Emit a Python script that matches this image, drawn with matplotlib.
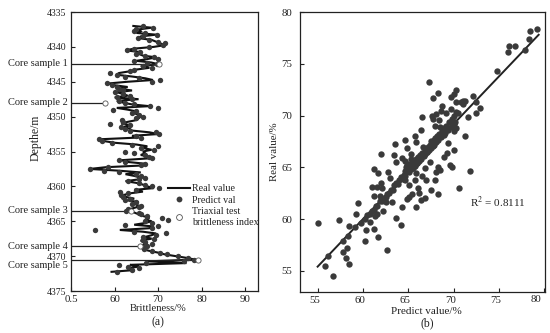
import matplotlib
matplotlib.use("Agg")
import matplotlib.pyplot as plt
from matplotlib.lines import Line2D
from matplotlib.transforms import ScaledTranslation

plt.rcParams['font.family'] = ['Liberation Serif', 'DejaVu Serif']

DARK = '#3a3a3a'
TXT = '#222222'

depth = [4337.0,4337.25,4337.5,4337.75,4338.0,4338.25,4338.5,4338.75,4339.0,4339.25,4339.5,4339.75,
4340.0,4340.25,4340.5,4340.75,4341.0,4341.25,4341.5,4341.75,4342.0,4342.25,4342.5,4342.75,
4343.0,4343.25,4343.5,4343.75,4344.0,4344.25,4344.5,4344.75,4345.0,4345.25,4345.5,4345.75,
4346.0,4346.25,4346.5,4346.75,4347.0,4347.25,4347.5,4347.75,4348.0,4348.25,4348.5,4348.75,
4349.0,4349.25,4349.5,4349.75,4350.0,4350.25,4350.5,4350.75,4351.0,4351.25,4351.5,4351.75,
4352.0,4352.25,4352.5,4352.75,4353.0,4353.25,4353.5,4353.75,4354.0,4354.25,4354.5,4354.75,
4355.0,4355.25,4355.5,4355.75,4356.0,4356.25,4356.5,4356.75,4357.0,4357.25,4357.5,4357.75,
4358.0,4358.25,4358.5,4358.75,4359.0,4359.25,4359.5,4359.75,4360.0,4360.25,4360.5,4360.75,
4361.0,4361.25,4361.5,4361.75,4362.0,4362.25,4362.5,4362.75,4363.0,4363.25,4363.5,4363.75,
4364.0,4364.25,4364.5,4364.75,4365.0,4365.25,4365.5,4365.75,4366.0,4366.25,4366.5,4366.75,
4367.0,4367.25,4367.5,4367.75,4368.0,4368.25,4368.5,4368.75,4369.0,4369.25,4369.5,4369.75,
4370.0,4370.25,4370.5,4370.75,4371.0,4371.25,4371.5,4371.75,4372.0,4372.25]

real = [64.3,68.5,65.5,66.0,65.0,69.5,66.0,65.5,68.5,69.5,70.5,71.5,
69.0,64.5,62.5,66.0,65.5,66.5,69.5,67.5,65.0,68.5,70.1,66.0,
68.0,65.0,63.5,61.0,60.5,64.0,67.0,68.8,63.0,58.5,60.0,63.0,
61.0,64.0,60.5,62.0,63.0,60.0,65.5,60.5,62.0,64.0,68.0,60.5,
63.0,65.0,64.5,65.5,66.0,65.5,65.0,63.0,61.5,64.0,62.0,63.5,
64.0,68.0,70.0,64.0,65.5,56.5,57.5,60.0,65.0,67.5,66.5,68.5,
66.5,67.0,66.0,68.0,67.5,61.5,63.0,67.0,66.5,58.0,54.3,61.0,
66.0,62.5,64.5,66.0,65.5,62.5,65.0,66.5,67.5,69.0,64.5,66.5,
63.5,62.0,62.5,64.5,63.0,65.5,64.5,65.5,65.0,63.5,63.7,64.5,
65.5,66.5,68.0,67.0,68.5,67.0,64.5,69.0,68.0,61.2,66.5,69.5,
68.5,67.0,68.5,66.0,66.5,67.5,65.9,67.0,66.5,68.0,70.0,71.5,
74.0,76.5,78.5,67.5,76.5,63.5,65.5,63.0,64.5,59.3]

predict = [66.5,68.8,65.0,64.5,67.0,69.7,66.5,65.4,68.0,70.0,71.5,71.0,
67.8,64.5,62.8,65.8,65.0,67.0,69.0,70.0,64.5,67.5,69.8,66.5,
68.5,64.5,63.5,58.9,60.6,62.5,65.5,70.4,68.5,58.2,59.5,60.5,
61.0,62.0,60.0,62.0,63.5,60.5,64.0,61.0,62.5,64.5,68.1,69.9,
59.7,65.0,64.0,65.5,66.5,65.0,61.8,62.0,59.0,63.5,61.5,62.5,
63.5,69.5,70.2,65.0,66.0,56.4,57.0,59.5,64.0,70.0,66.0,69.0,
62.4,64.5,67.0,68.0,68.5,61.0,62.5,67.0,66.0,58.6,54.4,57.5,
61.0,65.0,66.0,67.0,65.5,63.0,65.5,67.0,68.5,70.1,65.0,61.2,
63.0,61.5,62.0,63.5,62.5,65.0,64.0,66.0,65.5,63.0,62.7,65.5,
66.0,67.5,70.9,72.3,67.0,68.5,62.4,70.0,68.5,55.5,64.5,71.7,
69.5,66.5,69.0,66.5,67.0,68.5,67.5,66.5,66.8,68.5,70.5,72.0,
74.5,76.8,78.2,76.0,67.3,61.0,63.0,65.6,64.0,60.5]

core_names = ['Core sample 1', 'Core sample 2', 'Core sample 3', 'Core sample 4', 'Core sample 5']
core_depth = [4342.4, 4348.0, 4363.5, 4368.6, 4370.6]
core_value = [70.1, 57.9, 63.7, 65.9, 79.1]

left_xticks = [50, 60, 70, 80, 90]
left_xlabels = ['0.5', '60', '70', '80', '90']
left_yticks = [4335, 4340, 4345, 4350, 4355, 4360, 4365, 4370, 4375]

scatter_x = [79.2,78.4,78.3,77.9,76.8,76.1,76.0,74.85,67.3,68.3,67.7,70.3,70.0,69.75,68.7,72.1,72.5,72.9,72.5,71.6,
70.3,71.3,71.0,71.1,70.85,69.7,68.6,69.15,68.05,67.6,66.5,67.7,68.4,68.0,66.4,70.3,70.0,71.25,65.8,64.6,
63.5,65.9,64.9,70.1,69.4,62.0,63.4,64.3,63.6,64.6,65.3,69.25,69.0,67.4,68.3,69.6,69.8,61.2,66.9,
71.85,61.7,62.8,63.0,62.0,61.05,61.6,62.1,61.9,61.2,70.6,68.5,68.05,68.0,66.95,66.5,65.9,65.75,64.7,65.1,66.1,
66.2,67.55,68.3,65.4,65.05,64.85,66.8,66.45,65.9,64.35,62.6,63.25,59.5,62.2,61.55,61.3,59.25,57.4,55.0,58.5,
63.7,64.2,60.75,59.15,60.3,61.25,61.65,58.4,60.25,57.8,58.2,57.8,62.65,58.1,56.1,58.45,55.8,56.7,
60.5,61.0,61.4,61.9,62.3,62.7,63.1,63.4,63.7,64.0,64.2,64.6,64.8,65.0,65.2,65.4,65.6,65.9,66.1,66.3,
66.5,66.8,67.0,67.2,67.4,67.6,67.8,68.0,68.2,68.4,68.7,69.0,69.2,69.5,69.8,70.1,70.3,70.5,65.1,64.9,
65.5,65.7,66.2,67.1,67.5,67.9,68.5,66.6,66.0,65.3,
59.8,60.2,60.8,61.2,61.6,62.1,62.5,62.9,63.3,63.9,64.4,64.7,65.1,65.3,65.5,65.8,66.0,66.4,66.7,66.9,
67.1,67.3,67.5,67.7,67.9,68.1,68.3,68.6,68.9,69.1,69.4,69.7,70.0,70.2,64.5,64.9,65.2,65.0,65.4,66.2]

scatter_y = [78.36,78.2,77.4,76.3,76.7,76.75,76.1,74.3,73.2,72.2,71.65,72.45,72.1,71.8,70.95,71.9,71.3,70.75,70.2,69.85,
71.35,71.45,71.4,71.1,71.3,70.65,70.45,70.2,70.1,70.0,69.9,69.7,69.55,69.0,68.6,68.75,68.5,68.05,68.0,67.6,
67.25,67.4,66.85,66.7,67.3,66.3,66.15,65.9,65.5,65.65,66.25,66.35,66.0,65.5,65.0,65.2,65.05,64.85,64.9,
64.6,64.45,64.55,64.0,63.5,63.05,63.05,62.95,62.2,62.2,63.0,64.7,64.55,63.8,63.8,64.15,64.45,63.8,63.8,63.25,62.95,
62.5,62.85,62.45,62.4,62.15,61.95,62.05,61.8,61.15,61.15,61.6,61.6,61.55,60.8,60.5,60.3,60.45,59.95,59.6,59.3,
60.1,59.45,59.75,59.2,58.9,59.0,58.3,58.4,57.9,57.9,57.2,56.8,57.0,56.25,56.4,55.7,55.5,54.45,
60.4,60.8,61.3,61.7,62.0,62.4,62.8,63.3,63.5,63.8,64.1,64.6,65.0,64.9,65.2,65.3,65.5,65.8,66.0,66.2,
66.4,66.6,66.8,67.0,67.2,67.4,67.6,67.8,68.0,68.2,68.5,68.8,69.0,69.4,69.7,70.0,70.3,70.2,64.7,65.2,
64.9,65.1,65.7,66.5,67.5,67.3,68.9,67.0,65.4,65.8,
59.6,60.0,60.5,60.9,61.3,61.7,62.1,62.5,62.8,63.4,63.9,64.2,64.5,64.8,65.0,65.2,65.4,65.8,66.1,66.3,
66.5,66.7,66.9,67.1,67.2,67.4,67.6,67.9,68.1,68.3,68.6,68.9,69.2,69.4,64.3,64.6,65.1,65.3,65.1,65.6]

fit_x = [55.0, 79.4]
fit_y = [55.4, 77.8]
right_ticks = [55, 60, 65, 70, 75, 80]
right_xlabels = ['55', '60', '65', '70', '75', '']
last_xlabel = '80'

W, H = 550, 333
fig = plt.figure(figsize=(5.5, 3.33), dpi=100)
axl = fig.add_axes([71/W, 1-291/H, (258-71)/W, (291-12)/H])
axr = fig.add_axes([299.5/W, 1-291.5/H, (545-299.5)/W, (291.5-12)/H])

# left panel
axl.plot(real, depth, color='#111111', lw=1.5, solid_joinstyle='miter', zorder=2)
axl.scatter(predict, depth, s=15, color=DARK, linewidths=0, zorder=3)
for d, v in zip(core_depth, core_value):
    axl.plot([50, v], [d, d], color='#222222', lw=0.9, zorder=2)
axl.scatter(core_value, core_depth, s=14, facecolor='white', edgecolor='#555555', linewidths=0.6, zorder=4)
axl.set_xlim(50, 92.9)
axl.set_ylim(4375, 4335)
axl.set_xticks(left_xticks, left_xlabels)
axl.set_yticks(left_yticks)
for d, n, off in zip(core_depth, core_names, [0, 0, 0, 0, 0.7]):
    axl.text(49.2, d + off, n, ha='right', va='center', fontsize=7.5, color=TXT, clip_on=False)
axl.set_xlabel('Brittleness/%', fontsize=7.6, color=TXT)
axl.xaxis.set_label_coords(0.465, -0.047)
axl.set_ylabel('Depthe/m', fontsize=8.5, color=TXT)
axl.yaxis.set_label_coords(-0.155, 0.548)
fig.text(158/W, 1-322/H, '(a)', ha='center', va='center', fontsize=8.5, color=TXT)

handles = [
    Line2D([], [], color='#111111', lw=1.5),
    Line2D([], [], ls='', marker='o', ms=4.2, color=DARK, mew=0),
    Line2D([], [], ls='', marker='o', ms=4.2, mfc='white', mec='#555555', mew=0.6),
]
axl.legend(handles, ['Real value', 'Predict val', 'Triaxial test\nbrittleness index'],
           loc='upper left', bbox_to_anchor=(0.519, 0.383), frameon=False, fontsize=7.2,
           labelcolor=TXT, handlelength=2.2, handletextpad=0.2, labelspacing=0.25,
           borderpad=0, borderaxespad=0)

# right panel
axr.plot(fit_x, fit_y, color='#222222', lw=1.4, zorder=2)
axr.scatter(scatter_x, scatter_y, s=21, color=DARK, linewidths=0, zorder=3)
axr.set_xlim(53.0, 80.1)
axr.set_ylim(53.0, 80.0)
axr.set_xticks(right_ticks, right_xlabels)
axr.set_yticks(right_ticks)
axr.set_xlabel('Predict value/%', fontsize=8, color=TXT)
axr.xaxis.set_label_coords(0.518, -0.055)
axr.set_ylabel('Real value/%', fontsize=7.8, color=TXT)
axr.yaxis.set_label_coords(-0.083, 0.499)
axr.text(74.9, 61.6, 'R$^2$ = 0.8111', ha='center', va='center', fontsize=8, color=TXT,
         math_fontfamily='stix')
axr.annotate(last_xlabel, xy=(right_ticks[-1], 0), xycoords=axr.get_xaxis_transform(),
             xytext=(-8, -7.5), textcoords='offset pixels', ha='center', va='center',
             fontsize=7.8, color=TXT, annotation_clip=False)
fig.text(427.5/W, 1-323/H, '(b)', ha='center', va='center', fontsize=8.5, color=TXT)

for ax in (axl, axr):
    ax.tick_params(direction='in', length=3, width=0.8, labelsize=7.8, labelcolor=TXT,
                   color='#222222', pad=3)
    for s in ax.spines.values():
        s.set_linewidth(0.9)
        s.set_color('#222222')
axl.tick_params(axis='y', labelsize=7, pad=3.6)
axr.tick_params(axis='y', pad=5)

# the reference's right-panel x labels sit a little left of their ticks
for lab in axr.get_xticklabels():
    lab.set_transform(lab.get_transform() + ScaledTranslation(-3/100, 0, fig.dpi_scale_trans))

fig.savefig('out.png', dpi=100)
